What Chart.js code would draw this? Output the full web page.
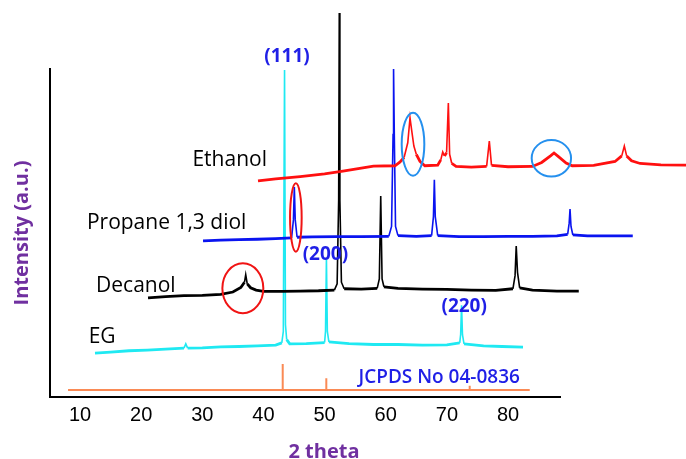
<!DOCTYPE html>
<html>
<head>
<meta charset="utf-8">
<script src="https://cdn.jsdelivr.net/npm/chart.js@4.4.0/dist/chart.umd.min.js"></script>
<style>
  html, body { margin: 0; padding: 0; background: #ffffff; }
  #wrap { width: 686px; height: 459px; position: relative; }
</style>
</head>
<body>
<div id="wrap"><canvas id="c" width="686" height="459"></canvas></div>
<script>
// ---------------- DATA (x = 2 theta axis units, y = intensity a.u.) ----------------
const xTickValues = [10, 20, 30, 40, 50, 60, 70, 80];

const egTrace = [
  [12.45, 13.4], [15.0, 13.7], [18.0, 14.1], [21.0, 14.3], [24.0, 14.6], [27.0, 14.9],
  [27.3, 16.2], [27.6, 14.9], [30.0, 15.0], [33.0, 15.3], [36.0, 15.4], [39.0, 15.6],
  [42.0, 15.8], [43.0, 16.5], [43.25, 20.0], [43.45, 99.7], [43.6, 22.0], [43.8, 17.5],
  [44.3, 16.2], [47.0, 16.3], [50.0, 16.6], [50.15, 20.0], [50.3, 42.4], [50.45, 20.0],
  [50.7, 16.8], [54.0, 16.3], [58.0, 16.0], [62.0, 16.0], [66.0, 15.8], [70.0, 15.9],
  [72.1, 16.5], [72.25, 19.0], [72.4, 28.0], [72.55, 19.0], [72.8, 16.2], [76.0, 15.6],
  [79.0, 15.4], [82.45, 15.2]
];

const decanolTrace = [
  [21.12, 30.2], [24.0, 30.6], [27.0, 30.9], [30.0, 31.0], [33.0, 31.3], [35.0, 32.0],
  [36.3, 33.4], [36.9, 35.0], [37.1, 37.3], [37.35, 34.5], [37.9, 33.3], [38.8, 32.6],
  [40.0, 32.2], [43.0, 32.2], [46.0, 32.3], [49.0, 32.4], [51.6, 32.6], [52.05, 34.5],
  [52.3, 60.0], [52.4, 117.1], [52.5, 60.0], [52.75, 35.0], [53.2, 33.0], [56.0, 32.9],
  [58.6, 33.1], [58.95, 36.0], [59.18, 61.3], [59.4, 36.0], [59.7, 33.6], [62.0, 33.1],
  [66.0, 32.9], [70.0, 32.8], [74.0, 32.6], [78.0, 32.5], [80.8, 33.0], [81.15, 37.0],
  [81.34, 46.0], [81.55, 38.0], [81.9, 33.3], [84.0, 32.6], [88.0, 32.3], [91.57, 32.3]
];

const propaneTrace = [
  [30.12, 47.6], [33.0, 47.8], [36.0, 48.0], [39.0, 48.1], [42.0, 48.3], [44.6, 48.5],
  [44.9, 54.0], [45.05, 64.0], [45.2, 54.0], [45.5, 48.7], [48.0, 48.8], [52.0, 48.9],
  [56.0, 48.9], [60.5, 49.0], [60.95, 52.0], [61.2, 80.0], [61.28, 100.0], [61.4, 80.0],
  [61.6, 52.0], [62.0, 49.2], [65.0, 49.0], [67.5, 49.2], [67.8, 55.0], [67.95, 66.2],
  [68.1, 55.0], [68.5, 49.2], [72.0, 48.9], [76.0, 48.9], [80.0, 49.0], [84.0, 49.0],
  [88.0, 49.1], [89.75, 49.6], [90.0, 53.0], [90.14, 57.3], [90.3, 52.0], [90.6, 49.4],
  [93.0, 49.1], [97.0, 49.1], [100.4, 49.1]
];

const ethanolTrace = [
  [39.11, 65.9], [42.0, 66.5], [46.0, 67.2], [50.0, 68.0], [53.0, 68.9], [56.0, 69.8],
  [58.0, 70.4], [61.5, 70.5], [62.3, 71.6], [63.0, 73.0], [63.6, 77.5], [63.97, 85.1],
  [64.3, 80.5], [64.6, 76.5], [65.0, 74.0], [65.6, 71.8], [66.4, 70.5], [68.5, 70.7],
  [69.0, 72.3], [69.32, 74.7], [69.6, 73.5], [69.95, 74.5], [70.24, 89.6], [70.45, 74.0],
  [70.8, 71.2], [71.5, 70.3], [74.0, 70.1], [76.5, 70.3], [76.94, 78.0], [77.3, 70.6],
  [80.0, 70.2], [84.0, 70.3], [85.5, 71.5], [87.0, 73.6], [87.52, 74.4], [88.3, 73.2],
  [89.5, 71.3], [90.5, 70.5], [94.0, 70.6], [97.5, 71.8], [98.6, 73.5], [99.02, 76.5],
  [99.4, 73.5], [100.2, 72.0], [101.6, 71.2], [105.0, 70.8], [109.12, 70.7]
];

// JCPDS No 04-0836 reference lines (2 theta, relative height)
const jcpdsPeaks = [43.15, 50.28, 73.73];
const jcpdsHeights = [7.9, 3.6, 1.3];
const jcpdsBase = 2.13;
const jcpdsRange = [8.04, 83.55];

// ---------------- build the stick pattern from the arrays ----------------
function stickPattern() {
  const pts = [{ x: jcpdsRange[0], y: jcpdsBase }];
  jcpdsPeaks.forEach((p, i) => {
    pts.push({ x: p, y: jcpdsBase });
    pts.push({ x: p, y: jcpdsBase + jcpdsHeights[i] });
    pts.push({ x: p, y: jcpdsBase });
  });
  pts.push({ x: jcpdsRange[1], y: jcpdsBase });
  return pts;
}
const toPts = a => a.map(([x, y]) => ({ x, y }));

// ---------------- annotations (positions in data units) ----------------
const ellipses = [
  { cx: 64.46, cy: 77.07, rx: 1.85, ry: 9.6, color: '#2590EE' },
  { cx: 87.09, cy: 72.77, rx: 3.22, ry: 5.58, color: '#2590EE' },
  { cx: 45.30, cy: 54.73, rx: 0.95, ry: 10.43, color: '#F01414' },
  { cx: 36.63, cy: 33.14, rx: 3.35, ry: 7.62, color: '#F01414' }
];
const textLabels = [
  { text: 'Ethanol', x: 34.48, y: 70.52, font: '21px "Open Sans"', color: '#000000' },
  { text: 'Propane 1,3 diol', x: 24.17, y: 51.22, font: '21px "Open Sans"', color: '#000000' },
  { text: 'Decanol', x: 19.13, y: 32.10, font: '21px "Open Sans"', color: '#000000' },
  { text: 'EG', x: 13.62, y: 16.55, font: '21px "Open Sans"', color: '#000000' },
  { text: '(111)', x: 43.86, y: 102.2, font: 'bold 19px "Open Sans"', color: '#1F1FE6' },
  { text: '(200)', x: 50.13, y: 41.77, font: 'bold 19px "Open Sans"', color: '#1F1FE6' },
  { text: '(220)', x: 72.83, y: 26.0, font: 'bold 19px "Open Sans"', color: '#1F1FE6' },
  { text: 'JCPDS No 04-0836', x: 68.74, y: 4.36, font: '600 19px "Open Sans"', color: '#1F1FE6' }
];
const xTitle = { text: '2 theta', x: 49.9, font: 'bold 20px "Open Sans"', color: '#7030A0' };

const annotPlugin = {
  id: 'annot',
  afterDatasetsDraw(chart) {
    const { ctx, scales: { x, y } } = chart;
    ctx.save();
    ellipses.forEach(e => {
      const cx = x.getPixelForValue(e.cx), cy = y.getPixelForValue(e.cy);
      const rx = Math.abs(x.getPixelForValue(e.cx + e.rx) - cx);
      const ry = Math.abs(y.getPixelForValue(e.cy + e.ry) - cy);
      ctx.beginPath();
      ctx.ellipse(cx, cy, rx, ry, 0, 0, Math.PI * 2);
      ctx.strokeStyle = e.color;
      ctx.lineWidth = 2;
      ctx.stroke();
    });
    ctx.textAlign = 'center';
    ctx.textBaseline = 'alphabetic';
    textLabels.forEach(l => {
      ctx.font = l.font;
      ctx.fillStyle = l.color;
      ctx.fillText(l.text, x.getPixelForValue(l.x), y.getPixelForValue(l.y));
    });
    ctx.font = xTitle.font;
    ctx.fillStyle = xTitle.color;
    ctx.fillText(xTitle.text, x.getPixelForValue(xTitle.x), x.bottom - 1);
    ctx.restore();
  }
};

const X_MIN = 5.09, X_MAX = 88.5;

// noisy baselines look like a thicker band; sharp peaks stay thin
const segWidth = c => {
  const dx = Math.abs(c.p1.parsed.x - c.p0.parsed.x) || 1e-6;
  const dy = Math.abs(c.p1.parsed.y - c.p0.parsed.y);
  return dy / dx > 4 ? 1.6 : 2.8;
};

const trace = (label, data, color) => ({
  label, data, borderColor: color, backgroundColor: color, borderWidth: 2,
  pointRadius: 0, showLine: true, tension: 0, fill: false, clip: false,
  segment: { borderWidth: segWidth }
});

new Chart(document.getElementById('c'), {
  type: 'scatter',
  data: {
    datasets: [
      trace('Ethanol', toPts(ethanolTrace), '#FF1010'),
      trace('Propane 1,3 diol', toPts(propaneTrace), '#0A14F0'),
      trace('Decanol', toPts(decanolTrace), '#000000'),
      trace('EG', toPts(egTrace), '#1FE9F2'),
      {
        label: 'JCPDS No 04-0836', data: stickPattern(), borderColor: '#FA8A55',
        backgroundColor: '#FA8A55', borderWidth: 2, pointRadius: 0, showLine: true,
        tension: 0, fill: false, clip: false
      }
    ]
  },
  options: {
    responsive: false,
    animation: false,
    devicePixelRatio: 1,
    layout: { padding: { left: 0, right: 126, top: 69, bottom: 0 } },
    plugins: { legend: { display: false }, tooltip: { enabled: false } },
    scales: {
      x: {
        type: 'linear',
        bounds: 'data',
        afterDataLimits: s => { s.min = X_MIN; s.max = X_MAX; },
        afterBuildTicks: s => { s.ticks = xTickValues.map(v => ({ value: v })); },
        afterFit: s => { s.height = 62; },
        grid: { display: false, drawTicks: false },
        border: { display: true, color: '#000000', width: 2 },
        ticks: {
          font: { family: 'Liberation Sans', size: 20 },
          color: '#000000', padding: 6, autoSkip: false, maxRotation: 0
        }
      },
      y: {
        min: 0, max: 100,
        afterFit: s => { s.width = 50; },
        grid: { display: false, drawTicks: false },
        border: { display: true, color: '#000000', width: 2 },
        ticks: { display: false },
        title: {
          display: true, text: 'Intensity (a.u.)', color: '#7030A0',
          font: { family: 'Open Sans', size: 20, weight: 'bold' },
          padding: { top: 10, bottom: 0 }
        }
      }
    }
  },
  plugins: [annotPlugin]
});
</script>
</body>
</html>
